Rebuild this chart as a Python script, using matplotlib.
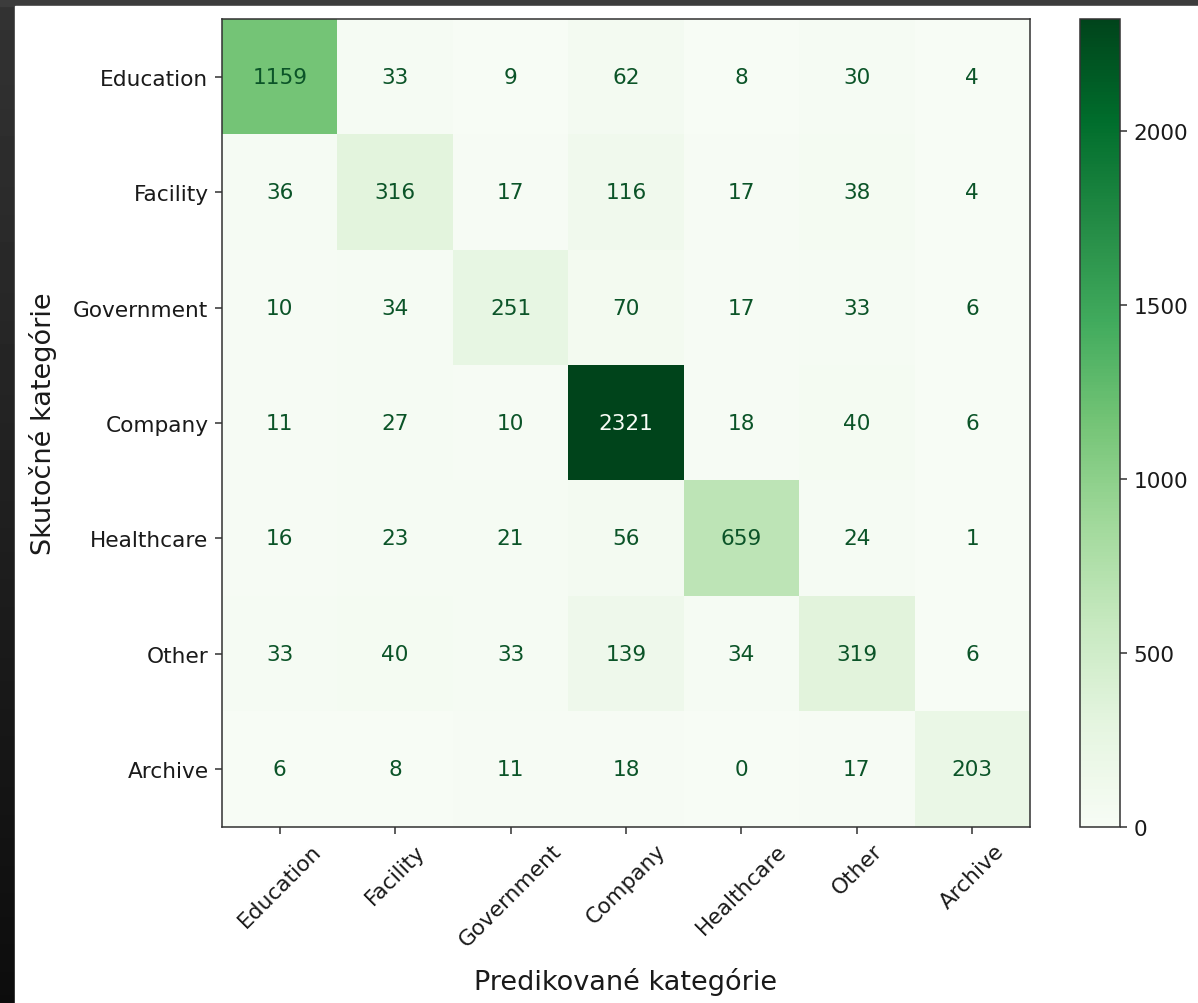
import numpy as np
import matplotlib
matplotlib.use("Agg")
import matplotlib.pyplot as plt
from matplotlib.patches import Rectangle

categories = ["Education", "Facility", "Government", "Company", "Healthcare", "Other", "Archive"]
row_education = [1159, 33, 9, 62, 8, 30, 4]
row_facility = [36, 316, 17, 116, 17, 38, 4]
row_government = [10, 34, 251, 70, 17, 33, 6]
row_company = [11, 27, 10, 2321, 18, 40, 6]
row_healthcare = [16, 23, 21, 56, 659, 24, 1]
row_other = [33, 40, 33, 139, 34, 319, 6]
row_archive = [6, 8, 11, 18, 0, 17, 203]
cbar_ticks = [0, 500, 1000, 1500, 2000]
xlabel = "Predikované kategórie"
ylabel = "Skutočné kategórie"

cm = np.array([row_education, row_facility, row_government, row_company,
               row_healthcare, row_other, row_archive])

S = 1.39
FS = 15.6
LFS = 19.5
W, H = 1198, 1004
fig = plt.figure(figsize=(W / 100, H / 100), dpi=100)

# screenshot frame
bg = fig.add_axes([0, 0, 1, 1], zorder=-10)
grad = np.linspace(0.2, 0.05, 256).reshape(-1, 1)
bg.imshow(grad, cmap="gray", vmin=0, vmax=1, aspect="auto", extent=[0, 1, 0, 1])
bg.add_patch(Rectangle((0, 1 - 7 / H), 1, 7 / H, color="#3c3c3c", zorder=2))
bg.add_patch(Rectangle((15 / W, 0), 1 - 15 / W, 1 - 7 / H, color="white", zorder=3))
bg.set_xlim(0, 1); bg.set_ylim(0, 1)
bg.axis("off")

ax = fig.add_axes([222 / W, 1 - 828 / H, 808 / W, 808 / H])
cmap = plt.get_cmap("Greens")
im = ax.imshow(cm, cmap=cmap, vmin=cm.min(), vmax=cm.max(), interpolation="nearest")

thresh = (cm.max() + cm.min()) / 2.0
for i in range(cm.shape[0]):
    for j in range(cm.shape[1]):
        color = cmap(0.0) if cm[i, j] >= thresh else "#0b5428"
        ax.text(j, i, str(cm[i, j]), ha="center", va="center", color=color, fontsize=FS)

ax.set_xticks(range(len(categories)))
ax.set_yticks(range(len(categories)))
ax.set_xticklabels(categories, rotation=45, ha="center", fontsize=FS, color="#1a1a1a")
ax.set_yticklabels(categories, fontsize=FS, color="#1a1a1a")
ax.set_xlabel(xlabel, fontsize=LFS, color="#1a1a1a", labelpad=12)
ax.set_ylabel(ylabel, fontsize=LFS, color="#1a1a1a", labelpad=12)
ax.tick_params(length=3.5 * S, width=0.8 * S, pad=3.5 * S, color="#333333")
for sp in ax.spines.values():
    sp.set_linewidth(0.8 * S)
    sp.set_color("#333333")

cax = fig.add_axes([1080 / W, 1 - 828 / H, 40 / W, 808 / H])
cb = fig.colorbar(im, cax=cax, ticks=cbar_ticks)
cb.ax.tick_params(labelsize=FS, length=3.5 * S, width=0.8 * S, pad=3.5 * S,
                  color="#333333", labelcolor="#1a1a1a")
cb.outline.set_linewidth(0.8 * S)
cb.outline.set_edgecolor("#333333")

fig.savefig("out.png", dpi=100)
